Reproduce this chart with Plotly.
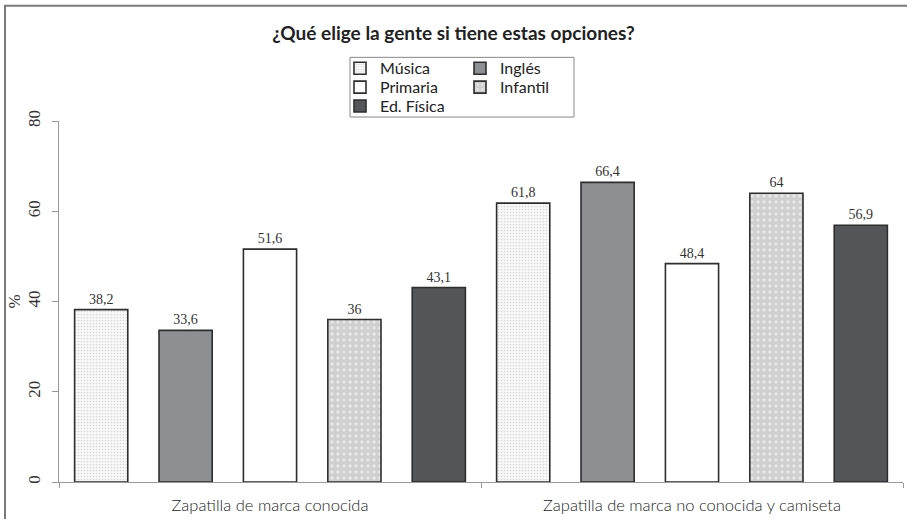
import plotly.graph_objects as go

categories = ["Zapatilla de marca conocida", "Zapatilla de marca no conocida y camiseta"]
series = ["Música", "Inglés", "Primaria", "Infantil", "Ed. Física"]
musica = [38.2, 61.8]
ingles = [33.6, 66.4]
primaria = [51.6, 48.4]
infantil = [36, 64]
ed_fisica = [43.1, 56.9]
y_ticks = [0, 20, 40, 60, 80]

values = [musica, ingles, primaria, infantil, ed_fisica]
fills = [
    dict(color="#ffffff", pattern=dict(shape=".", fgcolor="#b8b8b8", bgcolor="#f8f8f8", size=3, solidity=0.25)),
    dict(color="#8e8f93"),
    dict(color="#ffffff"),
    dict(color="#d2d2d2", pattern=dict(shape=".", fgcolor="#ffffff", bgcolor="#cfcfcf", size=6, solidity=0.25)),
    dict(color="#545558"),
]

W, H = 907, 519
ml, mr, mt, mb = 59, 4, 121, 35
pw, ph = W - ml - mr, H - mt - mb


def px_x(p):
    return (p - ml) / pw


def px_y(p):
    return (H - mb - p) / ph


def fmt(v):
    return f"{v:g}".replace(".", ",")


# one legend per entry, laid out as two columns inside a framed box
legend_pos = [(340, 68), (460, 68), (340, 87), (460, 87), (340, 106)]
legend_font = dict(family="Lato", size=16, color="#222222")

fig = go.Figure()
legend_layout = {}
for i, (name, vals, fill) in enumerate(zip(series, values, fills)):
    lid = "legend" if i == 0 else f"legend{i + 1}"
    marker = dict(line=dict(color="#2e2e2e", width=1.6), **fill)
    fig.add_trace(go.Bar(
        x=categories, y=vals, name=name, marker=marker,
        text=[fmt(v) for v in vals], textposition="outside",
        textfont=dict(family="Liberation Serif", size=14, color="#333333"),
        cliponaxis=False, legend=lid,
    ))
    lx, ly = legend_pos[i]
    legend_layout[lid] = dict(
        x=px_x(lx), y=px_y(ly), xanchor="left", yanchor="middle",
        font=legend_font, bgcolor="rgba(0,0,0,0)", borderwidth=0,
        itemwidth=30, orientation="v",
    )

fig.update_layout(
    width=W, height=H,
    margin=dict(l=ml, r=mr, t=mt, b=mb),
    paper_bgcolor="white", plot_bgcolor="white",
    barmode="group", bargap=0.0, bargroupgap=0.37,
    separators=", ",
    title=dict(text="<b>¿Qué elige la gente si tiene estas opciones?</b>",
               x=0.5, xanchor="center", y=1 - 33 / H, yanchor="middle",
               font=dict(family="Lato", size=19, color="#222222")),
    showlegend=True,
    shapes=[
        # legend frame
        dict(type="rect", xref="paper", yref="paper",
             x0=px_x(350), x1=px_x(574), y0=px_y(117), y1=px_y(57),
             line=dict(color="#888888", width=1), fillcolor="rgba(0,0,0,0)"),
        # outer chart frame
        dict(type="rect", xref="paper", yref="paper",
             x0=px_x(5), x1=px_x(1000), y0=px_y(600), y1=px_y(5),
             line=dict(color="#7a7a7a", width=2), fillcolor="rgba(0,0,0,0)"),
    ],
    **legend_layout,
)

fig.update_xaxes(
    showline=True, linecolor="#999999", linewidth=1,
    ticks="outside", tickson="boundaries", ticklen=5, tickcolor="#999999",
    tickfont=dict(family="Lato", size=16.5, color="#222222", weight=300),
    ticklabelstandoff=8,
    showgrid=False,
)
fig.update_yaxes(
    range=[0, 80], tickvals=y_ticks, showline=True, linecolor="#999999", linewidth=1,
    ticks="outside", ticklen=6, tickcolor="#999999", tickangle=-90,
    tickfont=dict(family="Liberation Serif", size=17, color="#333333"),
    ticklabelstandoff=5,
    title=dict(text="%", font=dict(family="Liberation Serif", size=17, color="#333333"), standoff=0),
    showgrid=False, zeroline=False,
)

fig.write_html("out.html")
